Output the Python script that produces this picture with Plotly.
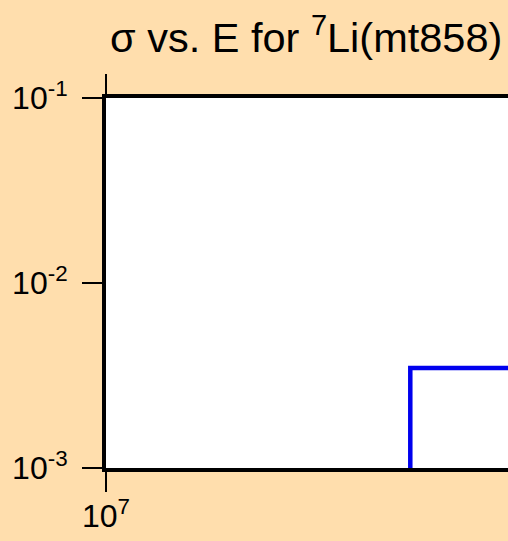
import plotly.graph_objects as go

# data
energy = [4.8e7, 4.8e7, 1.2e8]
sigma = [1e-4, 3.47e-3, 3.47e-3]
y_tickvals = [1e-3, 1e-2, 1e-1]
y_ticktext = ["10<sup>-3</sup>", "10<sup>-2</sup>", "10<sup>-1</sup>"]
x_tickvals = [1e7]
x_ticktext = ["10<sup>7</sup>"]

fig = go.Figure()
fig.add_trace(go.Scatter(x=energy, y=sigma, mode="lines",
                         line=dict(color="#0000EE", width=4.5)))

font = "Liberation Sans, Arial, sans-serif"
fig.update_layout(
    width=508, height=541,
    margin=dict(l=106, r=0, t=98, b=73),
    paper_bgcolor="#FFDEAD", plot_bgcolor="white",
    showlegend=False,
    font=dict(family=font, color="black", size=32),
    title=dict(text="σ vs. E for <sup>7</sup>Li(mt858)", xref="container", x=110/508,
               xanchor="left", yref="container", y=1-23/541, yanchor="top",
               font=dict(size=41.5, family=font, color="black")),
)
fig.update_xaxes(type="log", range=[7, 7.9], tickvals=x_tickvals, ticktext=x_ticktext,
                 showgrid=False, zeroline=False, showline=True, linecolor="black", linewidth=4,
                 mirror="allticks", ticks="outside", ticklen=20, tickwidth=2, tickcolor="black",
                 ticklabelstandoff=-3)
fig.update_yaxes(type="log", range=[-3, -1], tickvals=y_tickvals, ticktext=y_ticktext,
                 showgrid=False, zeroline=False, showline=True, linecolor="black", linewidth=4,
                 mirror=False, ticks="outside", ticklen=20, tickwidth=2, tickcolor="black",
                 ticklabelstandoff=8)

fig.write_html("out.html", config={"displayModeBar": False},
               post_script="document.body.style.margin='0';document.body.style.overflow='hidden';")
